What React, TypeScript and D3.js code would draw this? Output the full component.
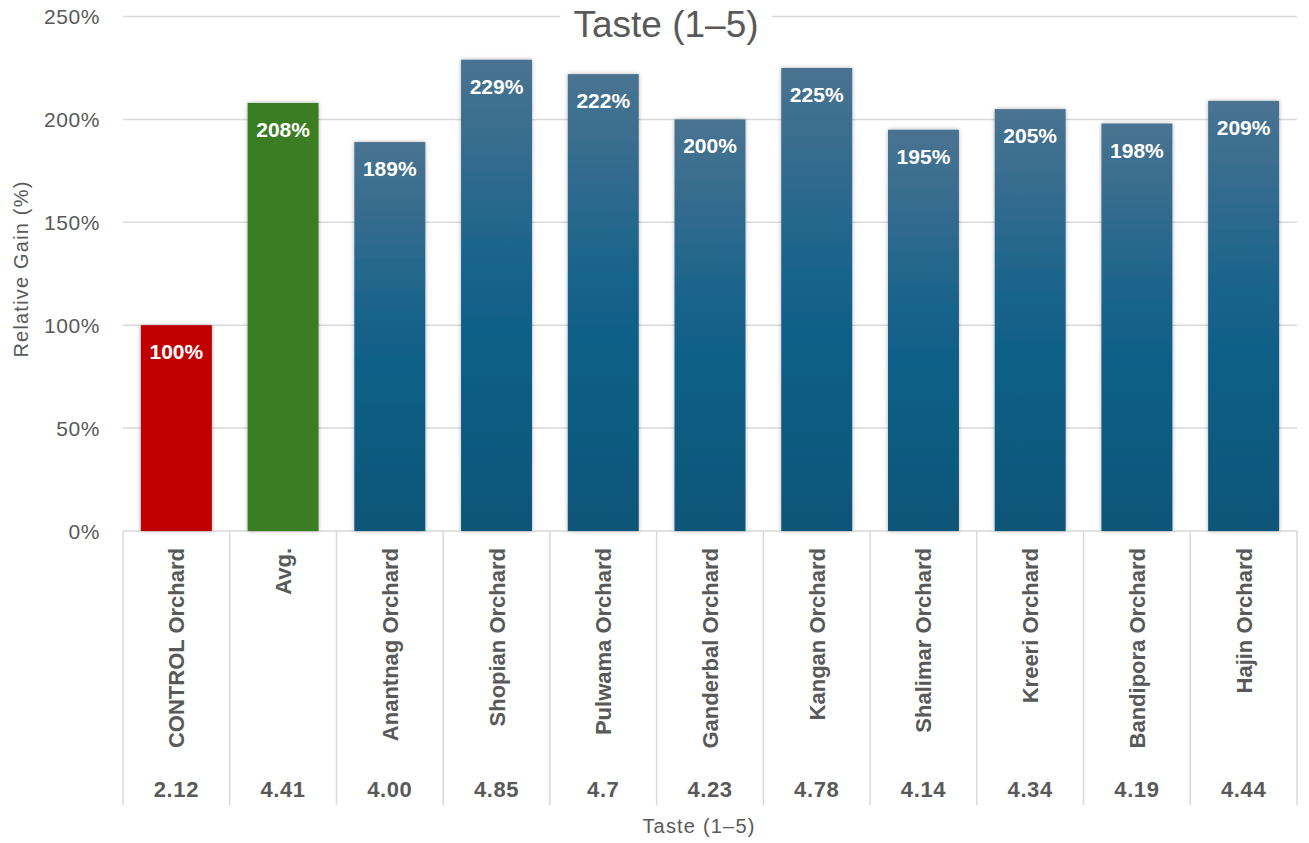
import React from "react";
import * as d3 from "d3";

const categories = [
  "CONTROL Orchard", "Avg.", "Anantnag Orchard", "Shopian Orchard", "Pulwama Orchard",
  "Ganderbal Orchard", "Kangan Orchard", "Shalimar Orchard", "Kreeri Orchard",
  "Bandipora Orchard", "Hajin Orchard",
];
const tasteScores = ["2.12", "4.41", "4.00", "4.85", "4.7", "4.23", "4.78", "4.14", "4.34", "4.19", "4.44"];
const relativeGain = [100, 208, 189, 229, 222, 200, 225, 195, 205, 198, 209];
const yTicks = [0, 50, 100, 150, 200, 250];

const W = 1309;
const H = 843;
const M = { left: 123, right: 1297, top: 16.5, bottom: 531 };
const FONT = "'Liberation Sans', Arial, sans-serif";
const GRAY = "#595959";

export default function App() {
  const x = d3.scaleBand<string>().domain(categories).range([M.left, M.right]).paddingInner(0.335).paddingOuter(0.1675);
  const xOuter = d3.scaleBand<string>().domain(categories).range([M.left, M.right]);
  const y = d3.scaleLinear().domain([0, 250]).range([M.bottom, M.top]);

  const fillFor = (i: number) => (i === 0 ? "#C00000" : i === 1 ? "#3B7D23" : "url(#blueGrad)");

  return (
    <svg width={W} height={H} style={{ position: "absolute", left: 0, top: 0, background: "#fff" }}>
      <defs>
        <linearGradient id="blueGrad" x1="0" y1="0" x2="0" y2="1">
          <stop offset="0%" stopColor="#4A7391" />
          <stop offset="50%" stopColor="#12618A" />
          <stop offset="100%" stopColor="#0B5678" />
        </linearGradient>
        <filter id="shadow" x="-20%" y="-10%" width="140%" height="120%">
          <feDropShadow dx="0" dy="0" stdDeviation="2" floodColor="#000" floodOpacity="0.3" />
        </filter>
      </defs>

      {/* gridlines */}
      {yTicks.map((t) => (
        <line key={"g" + t} x1={M.left} x2={M.right} y1={y(t)} y2={y(t)} stroke="#D9D9D9" strokeWidth={1.5} />
      ))}
      {/* y tick labels */}
      {yTicks.map((t) => (
        <text key={"yt" + t} x={100} y={y(t)} dy="0.36em" textAnchor="end" fontFamily={FONT} fontSize={21} letterSpacing={0.6} fill={GRAY}>
          {t}%
        </text>
      ))}

      {/* title with white background */}
      <rect x={560} y={4} width={212} height={40} fill="#fff" />
      <text x={666} y={37} textAnchor="middle" fontFamily={FONT} fontSize={37} fill={GRAY}>
        Taste (1–5)
      </text>

      {/* category separators */}
      {categories.map((c) => (
        <line key={"s" + c} x1={xOuter(c)!} x2={xOuter(c)!} y1={M.bottom} y2={805} stroke="#D9D9D9" strokeWidth={1.5} />
      ))}
      <line x1={M.right} x2={M.right} y1={M.bottom} y2={805} stroke="#D9D9D9" strokeWidth={1.5} />

      {/* bars */}
      {relativeGain.map((v, i) => (
        <rect
          key={"b" + i}
          x={x(categories[i])!}
          y={y(v)}
          width={x.bandwidth()}
          height={y(0) - y(v)}
          fill={fillFor(i)}
          filter="url(#shadow)"
        />
      ))}
      {/* bar labels */}
      {relativeGain.map((v, i) => (
        <text
          key={"l" + i}
          x={x(categories[i])! + x.bandwidth() / 2}
          y={y(v) + 34}
          textAnchor="middle"
          fontFamily={FONT}
          fontWeight="bold"
          fontSize={21}
          fill="#fff"
        >
          {v}%
        </text>
      ))}

      {/* category labels rotated */}
      {categories.map((c) => {
        const cx = xOuter(c)! + xOuter.bandwidth() / 2;
        return (
          <text
            key={"c" + c}
            transform={`translate(${cx + 8},548) rotate(-90)`}
            textAnchor="end"
            fontFamily={FONT}
            fontWeight="bold"
            fontSize={22}
            fill={GRAY}
          >
            {c}
          </text>
        );
      })}
      {/* taste scores */}
      {categories.map((c, i) => (
        <text
          key={"v" + c}
          x={xOuter(c)! + xOuter.bandwidth() / 2}
          y={797}
          textAnchor="middle"
          fontFamily={FONT}
          fontWeight="bold"
          fontSize={22}
          letterSpacing={0.6}
          fill={GRAY}
        >
          {tasteScores[i]}
        </text>
      ))}

      {/* axis titles */}
      <text transform={`translate(28,269) rotate(-90)`} textAnchor="middle" fontFamily={FONT} fontSize={20} letterSpacing={1.2} fill={GRAY}>
        Relative Gain (%)
      </text>
      <text x={699} y={833} textAnchor="middle" fontFamily={FONT} fontSize={20} letterSpacing={1.2} fill={GRAY}>
        Taste (1–5)
      </text>
    </svg>
  );
}
